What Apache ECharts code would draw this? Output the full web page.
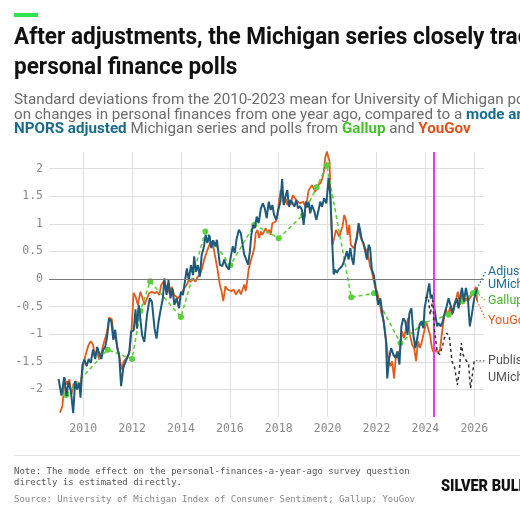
<!DOCTYPE html>
<html>
<head>
<meta charset="utf-8">
<script src="https://cdn.jsdelivr.net/npm/echarts@6/dist/echarts.min.js"></script>
<style>
html,body{margin:0;padding:0;background:#fff;}
#main{width:520px;height:520px;}
</style>
</head>
<body>
<div id="main"></div>
<script>
// values: [year, standard deviations]
var adjustedUMich = [
  [2008.99,-1.81],[2009.11,-2.11],[2009.22,-1.78],[2009.32,-2.12],[2009.40,-1.85],[2009.50,-2.05],[2009.59,-2.43],
  [2009.67,-1.85],[2009.75,-2.0],[2009.84,-1.88],[2009.89,-2.15],[2009.97,-1.55],[2010.05,-1.46],[2010.14,-1.58],
  [2010.22,-1.45],[2010.31,-1.52],[2010.40,-1.28],[2010.49,-1.45],[2010.57,-1.23],[2010.65,-1.34],[2010.74,-1.45],
  [2010.82,-1.28],[2010.90,-1.23],[2010.97,-1.07],[2011.06,-0.72],[2011.15,-0.77],[2011.23,-1.10],[2011.31,-0.92],
  [2011.39,-1.25],[2011.47,-1.37],[2011.55,-1.94],[2011.64,-1.61],[2011.72,-1.51],[2011.80,-1.43],[2011.88,-1.34],
  [2011.96,-0.95],[2012.04,-0.98],[2012.07,-0.93],[2012.14,-0.55],[2012.20,-0.90],[2012.27,-0.47],[2012.34,-0.72],
  [2012.41,-1.02],[2012.50,-1.14],[2012.61,-0.65],[2012.72,-0.35],[2012.81,-0.41],[2012.92,-0.90],[2013.00,-1.08],
  [2013.08,-0.78],[2013.18,-0.53],[2013.26,-0.35],[2013.32,0.01],[2013.41,-0.29],[2013.49,-0.02],[2013.57,-0.35],
  [2013.65,-0.17],[2013.73,-0.47],[2013.82,-0.35],[2013.92,-0.53],[2014.00,-0.23],[2014.08,-0.29],[2014.16,-0.05],
  [2014.24,0.19],[2014.32,-0.02],[2014.41,0.25],[2014.49,0.07],[2014.54,0.41],[2014.61,0.13],[2014.69,0.25],
  [2014.77,0.04],[2014.85,0.44],[2014.93,0.56],[2015.01,0.80],[2015.08,0.65],[2015.16,0.80],[2015.24,0.56],
  [2015.32,0.70],[2015.41,0.59],[2015.47,0.71],[2015.54,0.45],[2015.59,0.26],[2015.69,0.23],[2015.77,0.35],
  [2015.86,0.23],[2015.96,0.17],[2016.04,0.41],[2016.12,0.59],[2016.20,0.47],[2016.27,0.71],[2016.37,0.89],
  [2016.45,0.83],[2016.50,0.68],[2016.59,0.44],[2016.67,0.35],[2016.75,0.26],[2016.82,0.50],[2016.88,0.80],
  [2016.95,0.98],[2017.02,0.92],[2017.10,1.13],[2017.18,1.01],[2017.27,1.28],[2017.35,1.37],[2017.43,1.28],
  [2017.51,1.10],[2017.59,1.40],[2017.67,1.25],[2017.74,1.34],[2017.81,1.16],[2017.90,1.07],[2018.00,1.28],
  [2018.07,1.40],[2018.14,1.81],[2018.20,1.34],[2018.29,1.52],[2018.35,1.61],[2018.42,1.31],[2018.49,1.43],
  [2018.57,1.37],[2018.64,1.31],[2018.72,1.43],[2018.79,1.28],[2018.87,1.32],[2018.95,1.25],[2019.02,0.98],
  [2019.11,1.40],[2019.17,1.30],[2019.22,1.40],[2019.29,1.19],[2019.36,1.34],[2019.46,1.22],[2019.54,1.07],
  [2019.63,1.25],[2019.70,1.40],[2019.77,1.31],[2019.86,1.46],[2019.95,1.37],[2020.04,1.83],[2020.11,1.52],
  [2020.18,0.74],[2020.25,0.08],[2020.31,0.17],[2020.38,0.11],[2020.45,0.17],[2020.52,0.14],[2020.59,0.23],
  [2020.65,0.29],[2020.72,0.32],[2020.79,0.50],[2020.86,0.35],[2020.93,0.56],[2020.99,0.38],[2021.06,0.26],
  [2021.13,0.62],[2021.20,0.74],[2021.27,1.01],[2021.34,0.86],[2021.40,0.71],[2021.47,0.65],[2021.54,0.62],
  [2021.61,0.35],[2021.68,0.62],[2021.74,0.56],[2021.81,0.17],[2021.89,0.07],[2021.99,-0.23],[2022.07,-0.47],
  [2022.16,-0.35],[2022.23,-0.59],[2022.31,-0.83],[2022.39,-1.13],[2022.44,-1.80],[2022.52,-1.43],[2022.60,-1.25],
  [2022.69,-1.37],[2022.78,-1.43],[2022.86,-1.31],[2022.94,-1.55],[2023.02,-0.86],[2023.10,-0.71],[2023.18,-0.77],
  [2023.27,-1.01],[2023.35,-0.62],[2023.43,-0.53],[2023.51,-1.01],[2023.59,-1.25],[2023.67,-1.07],[2023.76,-0.83],
  [2023.84,-0.77],[2023.92,-0.89],[2023.97,-0.53],[2024.03,-0.38],[2024.11,-0.38],[2024.16,-0.08],[2024.22,-0.35],
  [2024.29,-0.29],[2024.35,-0.44],[2024.41,-0.65],[2024.48,-0.86],[2024.54,-0.80],[2024.63,-0.86],[2024.71,-0.77],
  [2024.79,-0.62],[2024.87,-0.50],[2024.95,-0.35],[2025.03,-0.47],[2025.12,-0.62],[2025.20,-0.47],[2025.28,-0.35],
  [2025.36,-0.53],[2025.44,-0.29],[2025.50,-0.16],[2025.58,-0.41],[2025.66,-0.16],[2025.74,-0.35],[2025.82,-0.86],
  [2025.90,-0.65],[2025.99,-0.38],[2026.07,-0.23],[2026.11,-0.18]
];

var youGov = [
  [2009.05,-2.42],[2009.15,-2.30],[2009.24,-1.79],[2009.33,-1.91],[2009.43,-1.82],[2009.52,-2.09],[2009.60,-1.91],
  [2009.70,-1.85],[2009.80,-1.94],[2009.89,-1.88],[2009.97,-1.64],[2010.05,-1.46],[2010.14,-1.31],[2010.22,-1.19],
  [2010.31,-1.13],[2010.40,-1.19],[2010.48,-1.40],[2010.56,-1.31],[2010.65,-1.46],[2010.74,-1.34],[2010.82,-1.19],
  [2010.90,-1.19],[2010.98,-0.95],[2011.06,-0.70],[2011.17,-0.73],[2011.25,-1.04],[2011.34,-1.10],[2011.42,-1.28],
  [2011.50,-1.31],[2011.58,-1.64],[2011.66,-1.49],[2011.74,-1.52],[2011.83,-1.40],[2011.91,-1.28],[2011.99,-0.84],
  [2012.06,-0.25],[2012.15,-0.33],[2012.24,-0.47],[2012.34,-0.23],[2012.43,-0.35],[2012.51,-0.47],[2012.61,-0.35],
  [2012.70,-0.26],[2012.81,-0.23],[2012.92,-0.26],[2013.01,-0.23],[2013.11,-0.29],[2013.19,-0.11],[2013.28,-0.05],
  [2013.35,-0.17],[2013.45,-0.11],[2013.53,-0.26],[2013.62,-0.14],[2013.72,-0.29],[2013.80,-0.26],[2013.89,-0.35],
  [2013.97,-0.29],[2014.05,-0.26],[2014.14,-0.17],[2014.23,-0.11],[2014.32,-0.02],[2014.41,-0.05],[2014.50,0.01],
  [2014.59,-0.05],[2014.68,0.04],[2014.77,0.07],[2014.86,0.19],[2014.95,0.35],[2015.04,0.47],[2015.14,0.59],
  [2015.22,0.68],[2015.31,0.62],[2015.41,0.38],[2015.49,0.19],[2015.59,-0.10],[2015.66,-0.22],[2015.73,-0.40],
  [2015.77,-0.42],[2015.82,-0.13],[2015.90,-0.19],[2015.98,-0.17],[2016.07,-0.22],[2016.16,-0.19],[2016.24,-0.28],
  [2016.31,-0.25],[2016.38,-0.19],[2016.45,-0.28],[2016.52,-0.19],[2016.59,-0.10],[2016.65,-0.22],[2016.71,-0.04],
  [2016.78,0.20],[2016.85,0.32],[2016.93,0.44],[2017.00,0.56],[2017.06,0.83],[2017.13,0.89],[2017.20,0.74],
  [2017.27,0.86],[2017.33,0.80],[2017.40,0.77],[2017.47,0.92],[2017.54,0.83],[2017.61,0.89],[2017.67,0.80],
  [2017.74,1.01],[2017.81,0.98],[2017.88,1.04],[2017.95,1.16],[2018.01,1.40],[2018.08,1.61],[2018.15,1.55],
  [2018.22,1.34],[2018.29,1.46],[2018.35,1.34],[2018.42,1.43],[2018.49,1.34],[2018.57,1.52],[2018.65,1.55],
  [2018.72,1.43],[2018.79,1.46],[2018.86,1.37],[2018.93,1.35],[2019.01,1.40],[2019.09,1.30],[2019.17,1.45],
  [2019.22,1.60],[2019.29,1.58],[2019.36,1.70],[2019.43,1.73],[2019.50,1.58],[2019.57,1.70],[2019.63,1.67],
  [2019.70,1.73],[2019.77,1.80],[2019.84,1.92],[2019.90,2.19],[2019.97,2.31],[2020.04,2.28],[2020.08,2.13],
  [2020.14,1.22],[2020.20,0.62],[2020.27,0.74],[2020.34,0.89],[2020.41,0.83],[2020.48,0.77],[2020.54,0.86],
  [2020.61,0.95],[2020.68,1.16],[2020.75,1.07],[2020.82,0.80],[2020.89,0.98],[2020.95,0.62],[2021.02,0.62],
  [2021.06,0.56],[2021.13,0.62],[2021.20,0.80],[2021.27,0.95],[2021.34,0.77],[2021.40,0.71],[2021.47,0.62],
  [2021.54,0.56],[2021.61,0.50],[2021.68,0.38],[2021.74,0.23],[2021.81,0.14],[2021.88,-0.01],[2021.95,-0.16],
  [2022.03,-0.23],[2022.12,-0.41],[2022.20,-0.62],[2022.30,-0.77],[2022.39,-1.10],[2022.48,-1.43],[2022.57,-1.58],
  [2022.64,-1.49],[2022.72,-1.80],[2022.80,-1.37],[2022.88,-1.43],[2022.97,-1.25],[2023.05,-0.95],[2023.13,-1.07],
  [2023.21,-0.89],[2023.29,-0.71],[2023.37,-1.01],[2023.46,-1.19],[2023.54,-1.25],[2023.62,-1.49],[2023.70,-1.13],
  [2023.78,-1.25],[2023.86,-1.13],[2023.95,-0.95],[2024.03,-0.77],[2024.11,-0.74],[2024.19,-1.01],[2024.27,-1.25],
  [2024.35,-1.34],[2024.44,-1.28],[2024.52,-1.34],[2024.60,-1.28],[2024.68,-0.98],[2024.76,-0.71],[2024.84,-0.53],
  [2024.93,-0.68],[2025.01,-0.50],[2025.09,-0.65],[2025.17,-0.47],[2025.25,-0.38],[2025.33,-0.23],[2025.41,-0.47],
  [2025.50,-0.29],[2025.58,-0.44],[2025.66,-0.35],[2025.74,-0.41],[2025.82,-0.35],[2025.90,-0.29],[2025.99,-0.23],
  [2026.07,-0.14],[2026.12,-0.40]
];

var gallup = [
  [2009.3,-2.1],[2011.0,-1.28],[2012.0,-1.45],[2012.34,-0.58],[2012.74,-0.04],[2014.0,-0.69],[2015.0,0.86],
  [2016.02,0.25],[2017.0,0.98],[2018.0,0.74],[2019.0,1.16],[2019.55,1.66],[2019.97,2.06],[2020.97,-0.33],
  [2021.9,-0.26],[2022.98,-1.16],[2023.9,-0.8],[2024.95,-0.65],[2025.5,-0.41],[2025.95,-0.26],[2026.08,-0.24]
];

var publishedUMich = [
  [2024.0,-0.35],[2024.11,-0.32],[2024.20,-0.65],[2024.30,-0.38],[2024.38,-0.95],[2024.48,-1.31],[2024.59,-1.37],
  [2024.68,-1.25],[2024.78,-1.07],[2024.88,-0.98],[2024.98,-1.04],[2025.09,-1.49],[2025.20,-1.61],[2025.31,-1.92],
  [2025.39,-1.67],[2025.47,-1.16],[2025.54,-1.37],[2025.61,-1.43],[2025.69,-1.49],[2025.77,-1.55],[2025.85,-1.98],
  [2025.93,-1.95],[2026.0,-1.49],[2026.07,-1.48]
];

var yearTicks = [2010, 2012, 2014, 2016, 2018, 2020, 2022, 2024, 2026];
var valueTicks = [-2, -1.5, -1, -0.5, 0, 0.5, 1, 1.5, 2];
var markerYear = 2024.33;

var MONO = '"DejaVu Sans Mono", "Liberation Mono", monospace';
var SANS = 'Roboto, "Noto Sans", sans-serif';
var TEAL = '#1e5b7b', ORANGE = '#e25a1c', GREEN = '#5ccf3c', BLACK = '#333';
var SUB = 15.2;

var chart = echarts.init(document.getElementById('main'));

var option = {
    animation: false,
    backgroundColor: '#fff',
    grid: {left: 49, right: 36, top: 152, bottom: 103, outerBoundsMode: 'none'},
    xAxis: {
        type: 'value', min: 2008.6, max: 2026.4,
        axisLine: {show: false},
        axisTick: {show: false, customValues: yearTicks},
        axisLabel: {customValues: yearTicks, color: '#8a8a8a', fontFamily: MONO, fontSize: 11.5, margin: 6,
            formatter: function(v){ return String(v); }},
        splitLine: {show: true, lineStyle: {color: '#dedede', width: 1}}
    },
    yAxis: {
        type: 'value', min: -2.5, max: 2.3,
        axisLine: {show: false},
        axisTick: {show: false, customValues: valueTicks},
        axisLabel: {customValues: valueTicks, color: '#8a8a8a', fontFamily: MONO, fontSize: 11.5, margin: 6},
        splitLine: {show: true, lineStyle: {color: '#dedede', width: 1}}
    },
    series: [
        {
            name: 'YouGov', type: 'line', data: youGov, showSymbol: false, z: 2,
            lineStyle: {color: ORANGE, width: 1.8}
        },
        {
            name: 'Gallup', type: 'line', data: gallup, symbol: 'circle', symbolSize: 6, z: 3,
            itemStyle: {color: GREEN}, lineStyle: {color: GREEN, width: 1.6, type: [4, 3]}
        },
        {
            name: 'Adjusted UMich', type: 'line', data: adjustedUMich, showSymbol: false, z: 4,
            lineStyle: {color: TEAL, width: 2},
            markLine: {
                silent: true, symbol: 'none', label: {show: false},
                data: [
                    {yAxis: 0, lineStyle: {color: '#7a7a7a', width: 1, type: 'solid'}},
                    {xAxis: markerYear, lineStyle: {color: '#e23fe6', width: 2, type: 'solid'}}
                ]
            }
        },
        {
            name: 'Published UMich', type: 'line', data: publishedUMich, showSymbol: false, z: 5,
            lineStyle: {color: BLACK, width: 1.5, type: [3, 3]}
        }
    ]
};
chart.setOption(option);

// end labels with dotted leader lines
function endPx(data){
    return chart.convertToPixel({gridIndex: 0}, data[data.length - 1]);
}
function leader(from, to, color){
    return {type: 'polyline', silent: true, shape: {points: [from, to]},
        style: {stroke: color, lineWidth: 1.2, lineDash: [1.5, 2], fill: null}};
}
function label(text, x, y, color){
    return {type: 'text', x: x, y: y, silent: true,
        style: {text: text, fill: color, fontFamily: SANS, fontSize: 12.5, verticalAlign: 'middle', align: 'left'}};
}

var labelX = 488;
var graphics = [
    {type: 'rect', x: 14, y: 13, shape: {width: 24, height: 4}, style: {fill: '#2ee34c'}},
    {type: 'text', x: 14, y: 37.5, scaleX: 0.94,
        style: {text: 'After adjustments, the Michigan series closely tracks other', fill: '#111',
            fontFamily: SANS, fontWeight: 'bold', fontSize: 24, verticalAlign: 'middle'}},
    {type: 'text', x: 14, y: 68, scaleX: 0.94,
        style: {text: 'personal finance polls', fill: '#111',
            fontFamily: SANS, fontWeight: 'bold', fontSize: 24, verticalAlign: 'middle'}},
    {type: 'text', x: 14, y: 100.5,
        style: {text: 'Standard deviations from the 2010-2023 mean for University of Michigan poll question',
            fill: '#6b6b6b', fontFamily: SANS, fontSize: SUB, verticalAlign: 'middle'}},
    {type: 'text', x: 14, y: 115,
        style: {text: 'on changes in personal finances from one year ago, compared to a {b|mode and}',
            fill: '#6b6b6b', fontFamily: SANS, fontSize: SUB, verticalAlign: 'middle',
            rich: {b: {fill: '#1b6c8c', fontWeight: 'bold', fontFamily: SANS, fontSize: SUB}}}},
    {type: 'text', x: 14, y: 129.5,
        style: {text: '{b|NPORS adjusted} Michigan series and polls from {g|Gallup} and {o|YouGov}',
            fill: '#6b6b6b', fontFamily: SANS, fontSize: SUB, verticalAlign: 'middle',
            rich: {
                b: {fill: '#1b6c8c', fontWeight: 'bold', fontFamily: SANS, fontSize: SUB},
                g: {fill: '#45c22b', fontWeight: 'bold', fontFamily: SANS, fontSize: SUB},
                o: {fill: '#e2501c', fontWeight: 'bold', fontFamily: SANS, fontSize: SUB}
            }}},
    {type: 'line', shape: {x1: 14, y1: 455.5, x2: 520, y2: 455.5}, style: {stroke: '#e2e2e2', lineWidth: 1}},
    {type: 'text', x: 14, y: 471.5,
        style: {text: 'Note: The mode effect on the personal-finances-a-year-ago survey question',
            fill: '#555', fontFamily: MONO, fontSize: 9, verticalAlign: 'middle'}},
    {type: 'text', x: 14, y: 483,
        style: {text: 'directly is estimated directly.', fill: '#555', fontFamily: MONO, fontSize: 9, verticalAlign: 'middle'}},
    {type: 'text', x: 14, y: 500,
        style: {text: 'Source: University of Michigan Index of Consumer Sentiment; Gallup; YouGov',
            fill: '#888', fontFamily: MONO, fontSize: 9, verticalAlign: 'middle'}},
    {type: 'text', x: 441, y: 486.5, scaleX: 0.88,
        style: {text: 'SILVER BULLETIN', fill: '#111', fontFamily: SANS, fontWeight: 900, fontSize: 16.5, verticalAlign: 'middle'}},

    leader(endPx(adjustedUMich), [486, 271], TEAL),
    leader(endPx(gallup), [485, 300], GREEN),
    leader(endPx(youGov), [485, 318], ORANGE),
    leader(endPx(publishedUMich), [486, 361], '#555'),
    label('Adjusted', labelX, 272, '#1b6f94'),
    label('UMich', labelX, 285, '#1b6f94'),
    label('Gallup', labelX, 301, '#45b52a'),
    label('YouGov', labelX, 321, '#e05a20'),
    label('Published', labelX, 361, '#555'),
    label('UMich', labelX, 378, '#555')
];
chart.setOption({graphic: graphics});
</script>
</body>
</html>
